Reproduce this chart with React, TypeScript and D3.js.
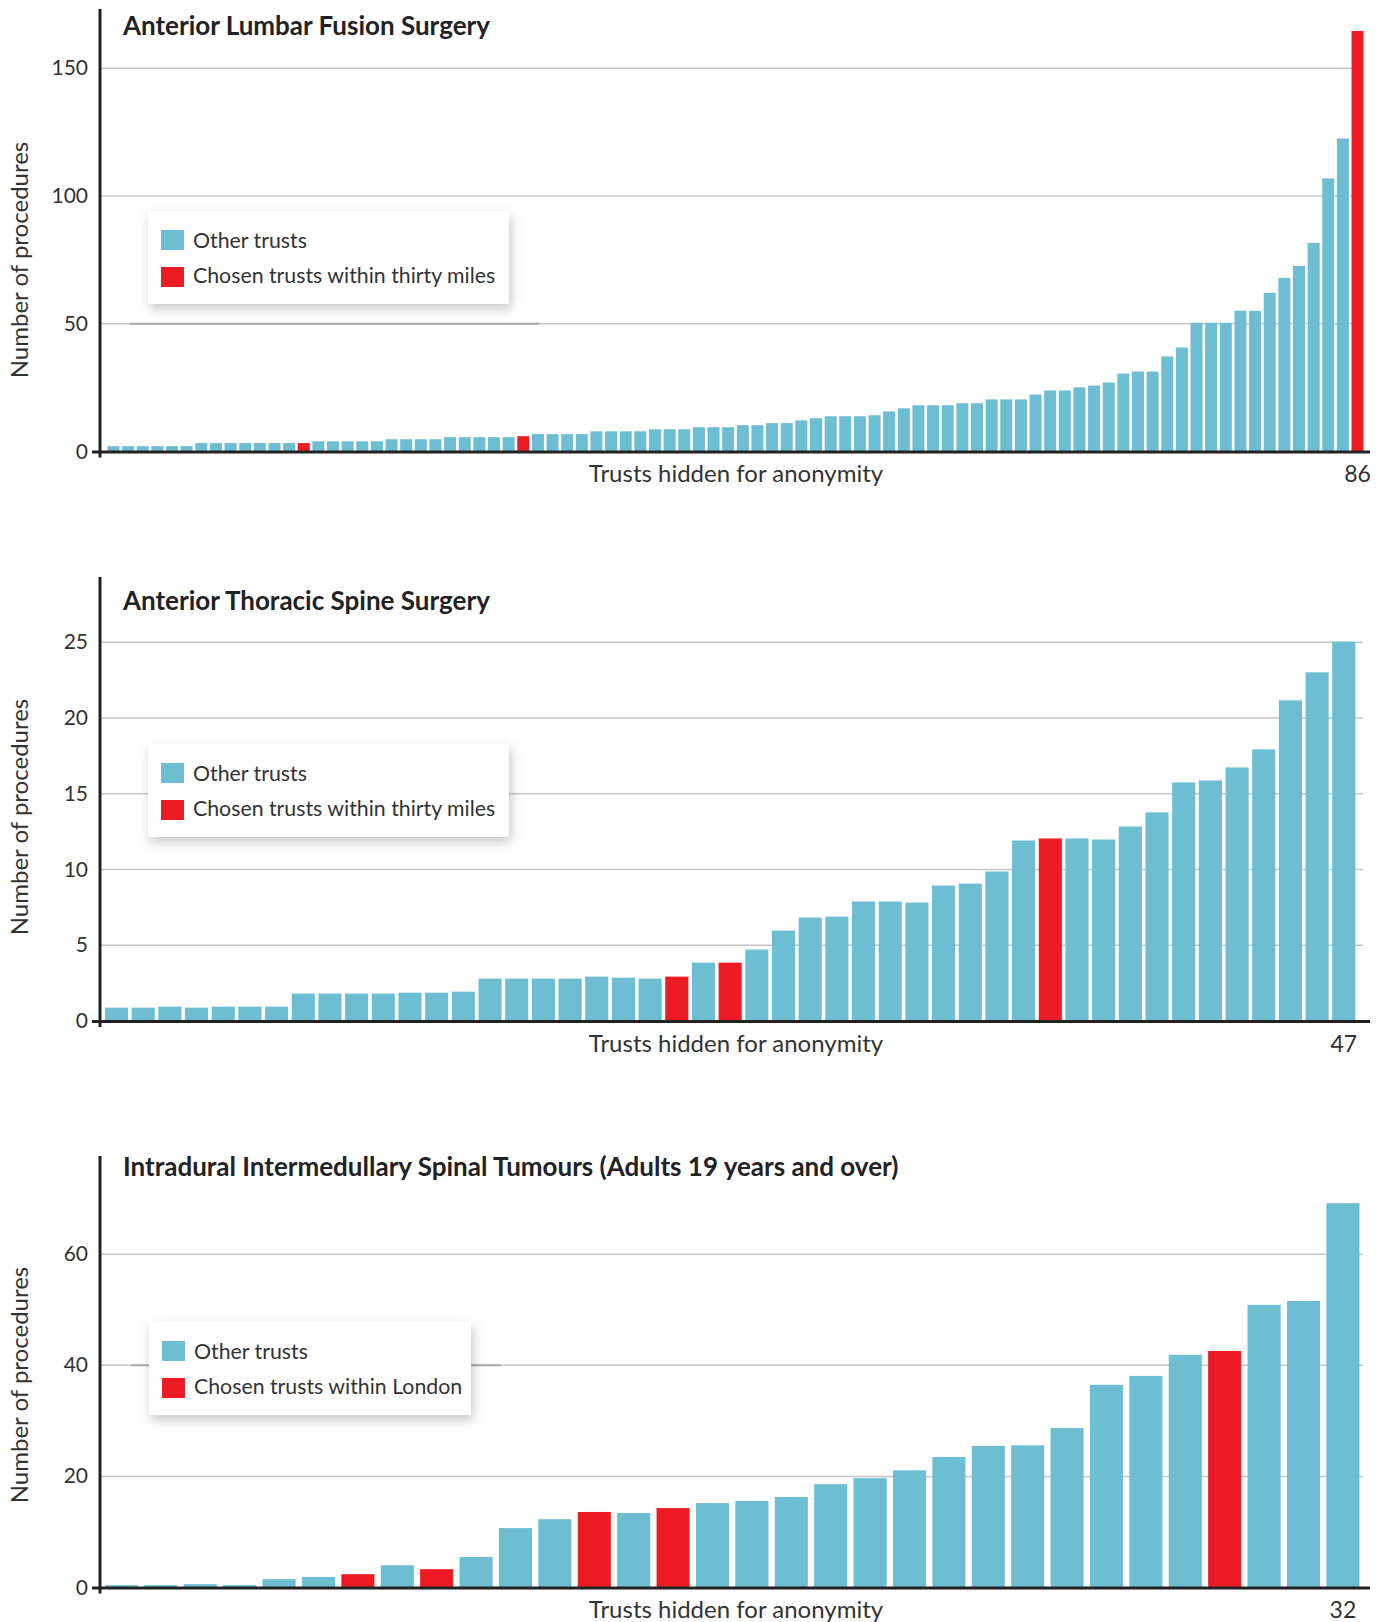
import React from 'react';
import * as d3 from 'd3';

// ---------- DATA ----------
const lumbarTitle = 'Anterior Lumbar Fusion Surgery';
const lumbarValues = [
  2.1, 2.1, 2.1, 2.1, 2.1, 2.1,
  3.3, 3.3, 3.3, 3.3, 3.3, 3.3, 3.3, 3.3,
  4.0, 4.0, 4.0, 4.0, 4.0,
  4.8, 4.8, 4.8, 4.8,
  5.6, 5.6, 5.6, 5.6, 5.6, 6.0,
  6.8, 6.8, 6.8, 6.8,
  7.9, 7.9, 7.9, 7.9,
  8.7, 8.7, 8.7,
  9.5, 9.5, 9.5,
  10.3, 10.3, 11.1, 11.1, 12.2, 13.0,
  13.8, 13.8, 13.8, 14.2, 15.7, 16.9,
  18.1, 18.1, 18.1, 18.9, 18.9,
  20.4, 20.4, 20.4, 22.3, 23.9, 23.9, 25.1, 25.8, 27.0,
  30.5, 31.3, 31.3, 37.2, 40.7,
  50.4, 50.4, 50.4, 55.1, 55.1, 62.1, 68.0, 72.6, 81.6,
  106.9, 122.5, 164.6,
];
const lumbarChosen = [13, 28, 85];
const lumbarTicks = [0, 50, 100, 150];

const thoracicTitle = 'Anterior Thoracic Spine Surgery';
const thoracicValues = [
  0.88, 0.88, 0.95, 0.88, 0.95, 0.95, 0.95,
  1.81, 1.81, 1.81, 1.81, 1.87, 1.87, 1.94,
  2.8, 2.8, 2.8, 2.8, 2.93, 2.86, 2.8, 2.93,
  3.85, 3.85, 4.71, 5.97, 6.83, 6.89,
  7.89, 7.89, 7.82, 8.94, 9.07, 9.87,
  11.92, 12.05, 12.05, 11.98, 12.84, 13.77,
  15.75, 15.88, 16.74, 17.93, 21.17, 23.02, 25.04,
];
const thoracicChosen = [21, 23, 35];
const thoracicTicks = [0, 5, 10, 15, 20, 25];

const tumourTitle = 'Intradural Intermedullary Spinal Tumours (Adults 19 years and over)';
const tumourValues = [
  0.42, 0.42, 0.6, 0.42, 1.5, 1.9, 2.4, 4.0, 3.3, 5.5,
  10.7, 12.3, 13.6, 13.4, 14.3, 15.2, 15.6, 16.3, 18.6, 19.7,
  21.1, 23.5, 25.5, 25.6, 28.7, 36.5, 38.1, 41.9, 42.6, 50.9,
  51.6, 69.2,
];
const tumourChosen = [6, 8, 12, 14, 28];
const tumourTicks = [0, 20, 40, 60];

const legendOther = 'Other trusts';
const legendChosenMiles = 'Chosen trusts within thirty miles';
const legendChosenLondon = 'Chosen trusts within London';
const yAxisLabel = 'Number of procedures';
const xAxisLabel = 'Trusts hidden for anonymity';

// ---------- STYLE / LAYOUT ----------
const BLUE = '#6dbdd3';
const RED = '#ed1c24';
const AXIS = '#222222';
const GRID = '#c6c6c6';
const TEXT = '#333333';
const FONT = 'Lato, "Open Sans", sans-serif';

const AXIS_X = 100;
const GRID_END = 1363;

type Panel = {
  title: string;
  values: number[];
  chosen: number[];
  ticks: number[];
  chosenLabel: string;
  axisTop: number;
  zeroY: number;
  topTickY: number;
  titleY: number;
  xRange: [number, number];
  padInner: number;
  legend: { x: number; y: number; w: number; h: number };
  ruleValue: number | null;
  yLabelCenter: number;
};

const panels: Panel[] = [
  {
    title: lumbarTitle, values: lumbarValues, chosen: lumbarChosen, ticks: lumbarTicks,
    chosenLabel: legendChosenMiles,
    axisTop: 9, zeroY: 451.5, topTickY: 68.3, titleY: 35,
    xRange: [106, 1365], padInner: 0.18,
    legend: { x: 148, y: 211, w: 361, h: 93 }, ruleValue: 50, yLabelCenter: 260,
  },
  {
    title: thoracicTitle, values: thoracicValues, chosen: thoracicChosen, ticks: thoracicTicks,
    chosenLabel: legendChosenMiles,
    axisTop: 577, zeroY: 1021, topTickY: 642.3, titleY: 610,
    xRange: [102.3, 1358], padInner: 0.134,
    legend: { x: 148, y: 744, w: 361, h: 93 }, ruleValue: null, yLabelCenter: 817,
  },
  {
    title: tumourTitle, values: tumourValues, chosen: tumourChosen, ticks: tumourTicks,
    chosenLabel: legendChosenLondon,
    axisTop: 1156, zeroY: 1587.5, topTickY: 1254.3, titleY: 1176,
    xRange: [101, 1363.4], padInner: 0.16,
    legend: { x: 149, y: 1322, w: 322, h: 93 }, ruleValue: 40, yLabelCenter: 1385,
  },
];

function ChartPanel({ p }: { p: Panel }) {
  const idxs = p.values.map((_, i) => i);
  const x = d3.scaleBand<number>().domain(idxs).range(p.xRange).paddingInner(p.padInner).paddingOuter(0.1);
  const topTick = p.ticks[p.ticks.length - 1];
  const y = d3.scaleLinear().domain([0, topTick]).range([p.zeroY, p.topTickY]);
  const chosenSet = new Set(p.chosen);
  const last = p.values.length - 1;
  const lg = p.legend;
  return (
    <g>
      {p.ticks.filter((t) => t > 0).map((t) => (
        <line key={'g' + t} x1={AXIS_X} x2={GRID_END} y1={y(t)} y2={y(t)} stroke={GRID} strokeWidth={1.5} />
      ))}
      {p.ticks.map((t) => (
        <text key={'t' + t} x={88} y={y(t) + 7} textAnchor="end" fontSize={21} fill={TEXT} fontFamily={FONT}>
          {t}
        </text>
      ))}
      {p.values.map((v, i) => (
        <rect
          key={'b' + i}
          x={x(i)}
          width={x.bandwidth()}
          y={y(v)}
          height={p.zeroY - y(v)}
          fill={chosenSet.has(i) ? RED : BLUE}
        />
      ))}
      {p.ruleValue !== null && (
        <line x1={lg.x - 18} x2={lg.x + lg.w + 30} y1={y(p.ruleValue)} y2={y(p.ruleValue)} stroke="#a9a9a9" strokeWidth={2} />
      )}
      <line x1={AXIS_X} x2={AXIS_X} y1={p.axisTop} y2={p.zeroY + 6} stroke={AXIS} strokeWidth={3} />
      <line x1={92} x2={1370} y1={p.zeroY + 0.5} y2={p.zeroY + 0.5} stroke={AXIS} strokeWidth={3} />
      <text x={123} y={p.titleY} fontSize={26} fontWeight={700} fill="#222" fontFamily={FONT}>
        {p.title}
      </text>
      <text
        transform={`translate(28,${p.yLabelCenter}) rotate(-90)`}
        textAnchor="middle"
        fontSize={24}
        fill={TEXT}
        fontFamily={FONT}
      >
        {yAxisLabel}
      </text>
      <text x={736} y={p.zeroY + 30.5} textAnchor="middle" fontSize={24} fill={TEXT} fontFamily={FONT}>
        {xAxisLabel}
      </text>
      <text x={(x(last) ?? 0) + x.bandwidth() / 2} y={p.zeroY + 30.5} textAnchor="middle" fontSize={23} fill={TEXT} fontFamily={FONT}>
        {p.values.length}
      </text>
      <g>
        <rect x={lg.x} y={lg.y} width={lg.w} height={lg.h} fill="#fff" filter={`url(#shadow)`} />
        <rect x={lg.x + 13} y={lg.y + 19} width={23} height={20} fill={BLUE} />
        <rect x={lg.x + 13} y={lg.y + 56} width={23} height={20} fill={RED} />
        <text x={lg.x + 45} y={lg.y + 37} fontSize={21.3} fill={TEXT} fontFamily={FONT}>
          {legendOther}
        </text>
        <text x={lg.x + 45} y={lg.y + 72} fontSize={21.3} fill={TEXT} fontFamily={FONT}>
          {p.chosenLabel}
        </text>
      </g>
    </g>
  );
}

export default function App() {
  return (
    <svg
      width={1390}
      height={1622}
      style={{ position: 'absolute', left: 0, top: 0, background: '#fff' }}
      xmlns="http://www.w3.org/2000/svg"
    >
      <defs>
        <filter id="shadow" x="-20%" y="-30%" width="140%" height="170%">
          <feDropShadow dx={2} dy={5} stdDeviation={6} floodColor="#000" floodOpacity={0.22} />
        </filter>
      </defs>
      <rect x={0} y={0} width={1390} height={1622} fill="#fff" />
      {panels.map((p, i) => (
        <ChartPanel key={i} p={p} />
      ))}
    </svg>
  );
}
